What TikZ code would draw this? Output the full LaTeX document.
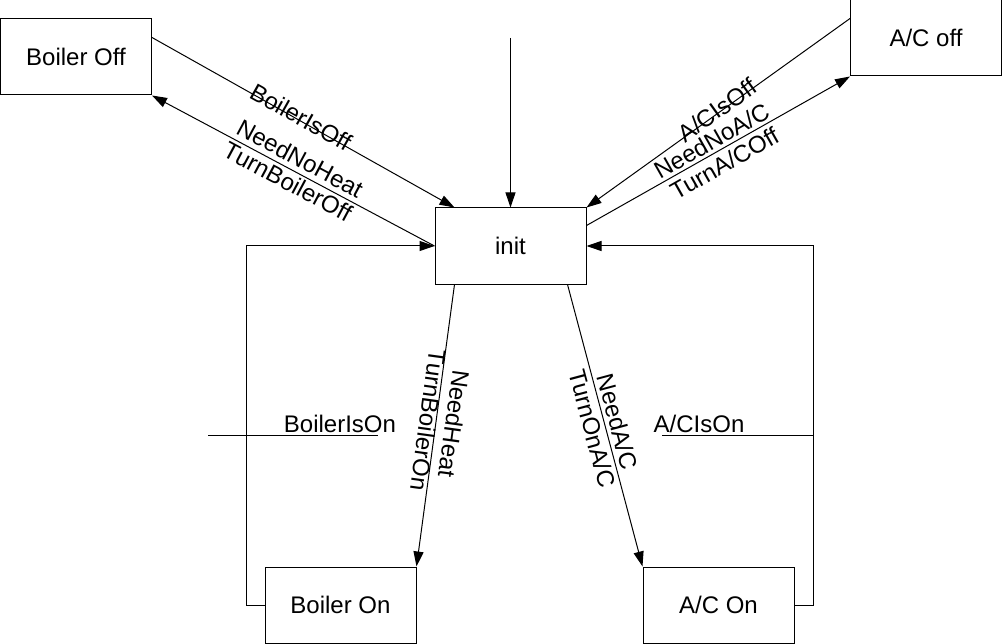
\documentclass[tikz,border=0pt]{standalone}
\usepackage{fontspec}
\setmainfont{Liberation Sans}
\usetikzlibrary{arrows.meta,calc}
\begin{document}
\begin{tikzpicture}[x=1pt,y=-1pt,
  state/.style={draw,line width=1pt,minimum width=151pt,minimum height=76pt,inner sep=0pt,font=\fontsize{24}{28}\selectfont},
  conn/.style={line width=1pt,-{Triangle[length=15pt,width=10pt]}},
  plain/.style={line width=1pt},
  lbl/.style={font=\fontsize{24}{26}\selectfont,inner sep=0pt,align=center}]
\useasboundingbox (0,0) rectangle (1003,644);

\node[state] (boff)  at (76,57)     {Boiler Off};
\node[state] (acoff) at (926,38)    {A/C off};
\node[state] (init)  at (510.5,246) {init};
\node[state] (bon)   at (340.5,605) {Boiler On};
\node[state] (acon)  at (718.5,605) {A/C On};

\coordinate (start) at (510.5,38);
\coordinate (bl1) at (246,605);
\coordinate (bl2) at (246,246);
\coordinate (al1) at (813,605);
\coordinate (al2) at (813,246);
\coordinate (bs1) at (208,435);
\coordinate (bs2) at (378,435);
\coordinate (as1) at (662,435);
\coordinate (as2) at (813,435);

% initial
\draw[conn] (start) -- (init.north);

% Boiler Off <-> init
\draw[conn] ($(boff.north east)+(0,19)$) -- ($(init.north west)+(20,0)$);
\draw[conn] (init.west) -- (boff.south east);
\node[lbl,rotate=-29.3] (l1) at (301,117) {BoilerIsOff};
\node[lbl,rotate=-28.1] (l2) at (294,170) {NeedNoHeat\\TurnBoilerOff};

% A/C off <-> init
\draw[conn] ($(acoff.north west)+(0,19)$) -- (init.north east);
\draw[conn] ($(init.north east)+(0,18)$) -- (acoff.south west);
\node[lbl,rotate=35.6] (l3) at (717,110) {A/CIsOff};
\node[lbl,rotate=29.6] (l4) at (718,152) {NeedNoA/C\\TurnA/COff};

% init -> Boiler On / A/C On
\draw[conn] ($(init.south west)+(20,0)$) -- (bon.north east);
\draw[conn] ($(init.south east)+(-19,0)$) -- (acon.north west);
\node[lbl,rotate=-97.85] (l5) at (441,422) {NeedHeat\\TurnBoilerOn};
\node[lbl,rotate=-74.97] (l6) at (605,425) {NeedA/C\\TurnOnA/C};

% loops back to init
\draw[conn] (bon.west) -- (bl1) -- (bl2) -- (init.west);
\draw[conn] (acon.east) -- (al1) -- (al2) -- (init.east);

% stray label lines
\draw[plain] (bs1) -- (bs2);
\draw[plain] (as1) -- (as2);
\node[lbl,anchor=base] (l7) at (340,432) {BoilerIsOn};
\node[lbl,anchor=base] (l8) at (699,432) {A/CIsOn};
\end{tikzpicture}
\end{document}
